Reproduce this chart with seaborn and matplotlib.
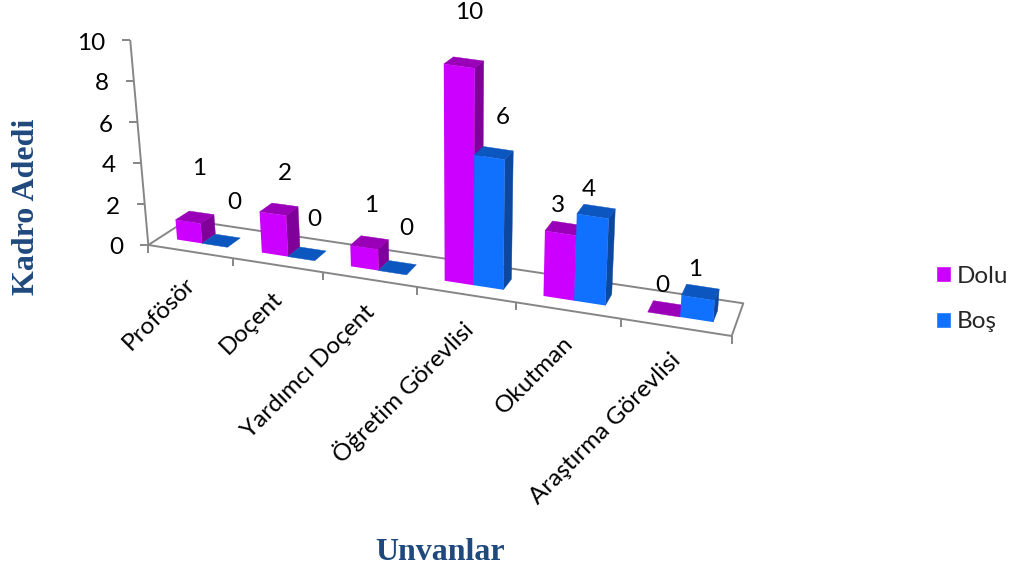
import numpy as np
import pandas as pd
import matplotlib
matplotlib.use("Agg")
import matplotlib.pyplot as plt
from matplotlib.patches import Polygon
from matplotlib.lines import Line2D
from matplotlib.transforms import Transform, IdentityTransform
import seaborn as sns

# ---- data ----
categories = ["Profösör", "Doçent", "Yardımcı Doçent", "Öğretim Görevlisi", "Okutman", "Araştırma Görevlisi"]
dolu = [1, 2, 1, 10, 3, 0]
bos = [0, 0, 0, 6, 4, 1]
series_names = ["Dolu", "Boş"]
y_ticks = [0, 2, 4, 6, 8, 10]

# ---- style / layout ----
W, H = 1013, 570
FS = 17.5
front_col = ["#CC00FF", "#1070FF"]
top_col = ["#9900B8", "#0C56C0"]
side_col = ["#80009A", "#0C48A0"]
axis_col = "#868686"
title_col = "#1F497D"
# pixel corners of the chart floor in the oblique view
FL, FR = np.array([148.3, 245.0]), np.array([731.7, 336.0])
BL, BR = np.array([187.0, 220.0]), np.array([743.3, 303.3])
PERSP = 1.17
LEAN, LEAN_X = 0.0058, 460.0
W0, W1 = 0.32, 0.68
lift_dolu = [49, 36, 37, 50, 23, 23]
lift_bos = [38, 34, 39, 35, 22, 23]
shift_dolu = [4, 6, 2, 5, -6, -4]
shift_bos = [13, 7, 9, 9, -7, -5]

sns.set_theme(style="white")
plt.rcParams["font.family"] = ["Lato", "DejaVu Sans"]


def proj(u, w, v, unit=None):
    """Category position u, depth w (0 front..1 back), value v -> image pixels."""
    u, w, v = np.asarray(u, float), np.asarray(w, float), np.asarray(v, float)
    up = (u + 0.5) / 6.0
    t = up / (up + PERSP * (1 - up))
    px = (1 - w) * (FL[0] + t * (FR[0] - FL[0])) + w * (BL[0] + t * (BR[0] - BL[0]))
    py = (1 - w) * (FL[1] + t * (FR[1] - FL[1])) + w * (BL[1] + t * (BR[1] - BL[1]))
    if unit is None:
        unit = np.minimum(19.6 + 4.2 * t, 21.7) - 0.9 * (w - W0)
    return px + v * LEAN * (px - LEAN_X), py - v * unit


def disp(u, w, v, unit=None):
    x, y = proj(u, w, v, unit)
    return np.column_stack([np.atleast_1d(x), H - np.atleast_1d(y)])


class FrontFace(Transform):
    """Maps seaborn's (category, value) coordinates onto the bars' front plane."""
    input_dims = output_dims = 2
    is_separable = False
    has_inverse = False

    def transform_non_affine(self, values):
        values = np.asarray(values, float)
        return disp(values[:, 0], W0, values[:, 1])


fig = plt.figure(figsize=(W / 100, H / 100), dpi=100, facecolor="white")
ax = fig.add_axes([0, 0, 1, 1])

df = pd.DataFrame({
    "Unvan": categories * 2,
    "Seri": [series_names[0]] * len(dolu) + [series_names[1]] * len(bos),
    "Adet": dolu + bos,
})
sns.barplot(data=df, x="Unvan", y="Adet", hue="Seri", order=categories, hue_order=series_names,
            palette=front_col, width=0.6, gap=0, saturation=1, errorbar=None, ax=ax)
handles, labels = ax.get_legend_handles_labels()
ax.get_legend().remove()
ax.legend(handles, labels, loc="center left", bbox_to_anchor=(935.5 / W, 1 - 299 / H),
          bbox_transform=fig.transFigure, frameon=False, fontsize=FS, handlelength=0.62,
          handleheight=0.62, handletextpad=0.25, labelspacing=1.02, borderpad=0, borderaxespad=0)
ax.set_axis_off()

identity = IdentityTransform()


def line(points, z=2):
    ax.add_line(Line2D(points[:, 0], points[:, 1], color=axis_col, lw=1.4, transform=identity,
                       zorder=z, clip_on=False, solid_capstyle="butt"))


# floor outline and axes
floor = np.vstack([disp(-0.5, 0, 0), disp(-0.5, 1, 0), disp(5.5, 1, 0), disp(5.5, 0, 0), disp(-0.5, 0, 0)])
line(floor)
axis_top = disp(-0.5, 0, 10, 20.5)
line(np.vstack([disp(-0.5, 0, 0), axis_top]))
for val in y_ticks:
    p = disp(-0.5, 0, val, 20.5)[0]
    line(np.array([p, p + [-8, 0]]))
    fig.text(p[0] - 25, p[1] - 3, str(val), ha="right", va="center", fontsize=FS, color="black",
             transform=identity)
for i in range(len(categories) + 1):
    p = disp(i - 0.5, 0, 0)[0]
    line(np.array([p, p + [0, -8]]))

# prisms: seaborn's rectangles are the front faces, sides and tops follow from them
for j, (container, lifts, shifts) in enumerate(zip(ax.containers, [lift_dolu, lift_bos],
                                                   [shift_dolu, shift_bos])):
    for i, bar in enumerate(container):
        x0, x1, v = bar.get_x(), bar.get_x() + bar.get_width(), bar.get_height()
        z = 10 + i * 10 + j * 3
        side = np.vstack([disp(x1, W0, 0), disp(x1, W1, 0), disp(x1, W1, v), disp(x1, W0, v)])
        top = np.vstack([disp(x0, W0, v), disp(x1, W0, v), disp(x1, W1, v), disp(x0, W1, v)])
        if v > 0:
            ax.add_patch(Polygon(side, closed=True, fc=side_col[j], ec=side_col[j], lw=0.3,
                                 transform=identity, zorder=z, clip_on=False))
        ax.add_patch(Polygon(top, closed=True, fc=top_col[j], ec=top_col[j], lw=0.3,
                             transform=identity, zorder=z + 1, clip_on=False))
        bar.set_transform(FrontFace())
        bar.set_clip_on(False)
        bar.set_linewidth(0)
        bar.set_zorder(z + 2)
        c = disp((x0 + x1) / 2, 0.5, v)[0]
        fig.text(c[0] + shifts[i], c[1] + lifts[i], str(int(v)), ha="center", va="center", fontsize=FS,
                 color="black", transform=identity, zorder=100)

# category labels
for i, name in enumerate(categories):
    p = disp(i + 0.0, 0, 0)[0]
    fig.text(p[0] - 6, p[1] - 22, name, rotation=45, ha="right", va="top", rotation_mode="anchor",
             fontsize=FS, color="black", transform=identity)

fig.text(26 / W, 1 - 207 / H, "Kadro Adedi", rotation=90, ha="center", va="center", fontsize=23,
         fontweight="bold", color=title_col, family=["Liberation Serif"])
fig.text(440 / W, 1 - 552 / H, "Unvanlar", ha="center", va="center", fontsize=23,
         fontweight="bold", color=title_col, family=["Liberation Serif"])

fig.savefig("out.png", dpi=100, facecolor="white")
